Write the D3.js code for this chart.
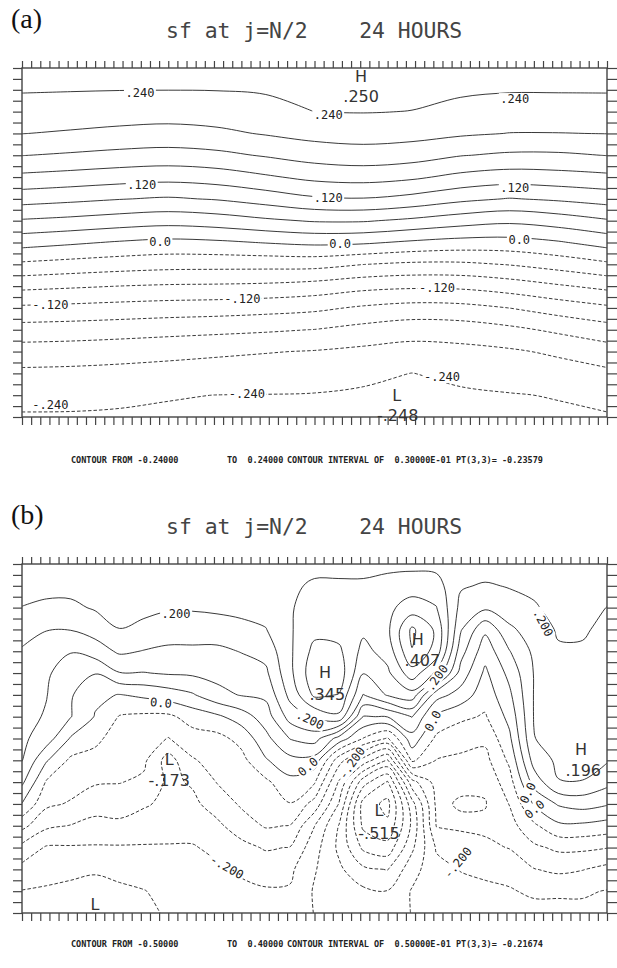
<!DOCTYPE html>
<html>
<head>
<meta charset="utf-8">
<script src="https://cdnjs.cloudflare.com/ajax/libs/d3/7.8.5/d3.min.js"></script>
<style>
  body { margin: 0; background: #fff; }
  svg { display: block; }
  text { white-space: pre; }
</style>
</head>
<body>
<div id="canvas"></div>
<script>
const width = 617;
const height = 968;

// ---- panel (a): stream function on a 13 x 17 grid (top row first)
const colsA = 13;
const rowsA = 17;
const fieldA = [
  [0.2455, 0.2458, 0.2462, 0.2465, 0.2466, 0.2472, 0.2480, 0.2485, 0.2480, 0.2472, 0.2462, 0.2460, 0.2455],
  [0.2418, 0.2412, 0.2405, 0.2403, 0.2407, 0.2425, 0.2465, 0.2497, 0.2468, 0.2435, 0.2418, 0.2418, 0.2418],
  [0.2298, 0.2271, 0.2243, 0.2227, 0.2249, 0.2309, 0.2401, 0.2411, 0.2395, 0.2333, 0.2286, 0.2286, 0.2298],
  [0.2105, 0.2067, 0.2026, 0.2000, 0.2040, 0.2122, 0.2199, 0.2226, 0.2202, 0.2141, 0.2094, 0.2094, 0.2105],
  [0.1807, 0.1763, 0.1716, 0.1688, 0.1730, 0.1826, 0.1928, 0.1974, 0.1930, 0.1813, 0.1754, 0.1756, 0.1807],
  [0.1432, 0.1386, 0.1334, 0.1300, 0.1348, 0.1461, 0.1576, 0.1611, 0.1551, 0.1423, 0.1358, 0.1386, 0.1432],
  [0.1022, 0.0970, 0.0912, 0.0867, 0.0922, 0.1031, 0.1156, 0.1185, 0.1106, 0.0972, 0.0885, 0.0945, 0.1022],
  [0.0571, 0.0521, 0.0456, 0.0411, 0.0456, 0.0549, 0.0626, 0.0627, 0.0540, 0.0433, 0.0362, 0.0445, 0.0571],
  [0.0114, 0.0044, -0.0028, -0.0079, -0.0050, 0.0013, 0.0064, 0.0040, -0.0047, -0.0109, -0.0114, -0.0030, 0.0114],
  [-0.0353, -0.0407, -0.0456, -0.0492, -0.0499, -0.0499, -0.0497, -0.0595, -0.0655, -0.0653, -0.0585, -0.0478, -0.0353],
  [-0.0822, -0.0862, -0.0902, -0.0931, -0.0941, -0.0962, -0.1018, -0.1110, -0.1149, -0.1138, -0.1052, -0.0933, -0.0822],
  [-0.1252, -0.1278, -0.1310, -0.1339, -0.1358, -0.1392, -0.1438, -0.1541, -0.1607, -0.1589, -0.1498, -0.1367, -0.1252],
  [-0.1624, -0.1642, -0.1669, -0.1701, -0.1730, -0.1763, -0.1806, -0.1898, -0.1968, -0.1949, -0.1867, -0.1745, -0.1624],
  [-0.1931, -0.1947, -0.1976, -0.2011, -0.2050, -0.2085, -0.2116, -0.2166, -0.2216, -0.2186, -0.2139, -0.2052, -0.1931],
  [-0.2162, -0.2172, -0.2192, -0.2218, -0.2241, -0.2258, -0.2285, -0.2345, -0.2403, -0.2350, -0.2295, -0.2231, -0.2162],
  [-0.2327, -0.2332, -0.2357, -0.2386, -0.2402, -0.2406, -0.2413, -0.2435, -0.2462, -0.2432, -0.2413, -0.2387, -0.2327],
  [-0.2422, -0.2423, -0.2428, -0.2436, -0.2443, -0.2450, -0.2462, -0.2475, -0.2480, -0.2470, -0.2455, -0.2440, -0.2422]
];
const levelsA = [-0.24, -0.21, -0.18, -0.15, -0.12, -0.09, -0.06, -0.03, 0, 0.03, 0.06, 0.09, 0.12, 0.15, 0.18, 0.21, 0.24];

// contour labels: model point i (0..64), j (0..32), text, angle
const labelsA = [
  [12.9, 2.3, ".240", 0], [33.5, 4.3, ".240", 0], [53.9, 2.85, ".240", 0],
  [13.1, 10.75, ".120", 0], [33.5, 11.9, ".120", 0], [53.9, 11.0, ".120", 0],
  [15.1, 15.95, "0.0", 0], [34.8, 16.15, "0.0", 0], [54.4, 15.8, "0.0", 0],
  [3.1, 21.7, "-.120", 0], [24.1, 21.2, "-.120", 0], [45.4, 20.2, "-.120", 0],
  [3.1, 30.9, "-.240", 0], [24.6, 29.9, "-.240", 0], [45.95, 28.35, "-.240", 0]
];
const extremaA = [
  [37.1, 0.8, "H"], [37.1, 2.6, ".250"],
  [41.0, 30.0, "L"], [41.1, 31.85, "-.248"]
];
const footerA = ["CONTOUR FROM -0.24000", "TO  0.24000", "CONTOUR INTERVAL OF  0.30000E-01 PT(3,3)= -0.23579"];

// ---- panel (b): 25 x 17 grid (top row first)
const colsB = 25;
const rowsB = 17;
const fieldB = [
  [0.23, 0.23, 0.23, 0.23, 0.235, 0.235, 0.235, 0.235, 0.235, 0.235, 0.235, 0.23, 0.23, 0.23, 0.23, 0.235, 0.235, 0.235, 0.23, 0.225, 0.225, 0.225, 0.23, 0.235, 0.235],
  [0.215, 0.215, 0.215, 0.22, 0.23, 0.23, 0.225, 0.225, 0.225, 0.23, 0.23, 0.238, 0.26, 0.26, 0.26, 0.27, 0.28, 0.27, 0.205, 0.195, 0.203, 0.21, 0.225, 0.23, 0.225],
  [0.199, 0.19, 0.19, 0.205, 0.22, 0.215, 0.205, 0.205, 0.21, 0.215, 0.22, 0.245, 0.275, 0.275, 0.27, 0.29, 0.32, 0.302, 0.185, 0.16, 0.18, 0.195, 0.215, 0.22, 0.199],
  [0.17, 0.152, 0.152, 0.17, 0.199, 0.185, 0.175, 0.175, 0.175, 0.185, 0.198, 0.245, 0.285, 0.28, 0.26, 0.29, 0.41, 0.34, 0.155, 0.06, 0.14, 0.175, 0.205, 0.205, 0.19],
  [0.145, 0.125, 0.103, 0.125, 0.158, 0.148, 0.14, 0.14, 0.14, 0.152, 0.168, 0.242, 0.315, 0.31, 0.235, 0.27, 0.398, 0.33, 0.12, 0.02, 0.098, 0.16, 0.195, 0.195, 0.185],
  [0.135, 0.108, 0.07, 0.052, 0.098, 0.098, 0.105, 0.108, 0.115, 0.127, 0.14, 0.238, 0.335, 0.33, 0.202, 0.24, 0.33, 0.24, 0.08, -0.01, 0.065, 0.152, 0.185, 0.19, 0.18],
  [0.125, 0.102, 0.055, 0.01, -0.002, 0.01, 0.025, 0.045, 0.085, 0.103, 0.11, 0.215, 0.31, 0.298, 0.148, 0.205, 0.23, 0.07, 0.03, -0.03, 0.04, 0.152, 0.18, 0.19, 0.178],
  [0.118, 0.095, 0.052, -0.003, -0.053, -0.06, -0.06, -0.03, -0.01, 0.025, 0.075, 0.17, 0.21, 0.24, 0.048, 0.052, 0.102, -0.01, -0.04, -0.055, 0.015, 0.152, 0.18, 0.192, 0.176],
  [0.11, 0.075, -0.005, -0.04, -0.07, -0.075, -0.102, -0.07, -0.065, -0.035, 0.035, 0.102, 0.12, 0.03, -0.052, -0.105, 0.03, -0.06, -0.08, -0.09, -0.01, 0.148, 0.175, 0.194, 0.172],
  [0.102, 0.005, -0.06, -0.065, -0.085, -0.09, -0.172, -0.105, -0.08, -0.065, -0.005, 0.035, 0.03, -0.13, -0.22, -0.305, -0.04, -0.102, -0.11, -0.115, -0.04, 0.12, 0.16, 0.196, 0.155],
  [0.06, -0.055, -0.08, -0.095, -0.098, -0.11, -0.16, -0.145, -0.098, -0.08, -0.06, -0.015, -0.045, -0.205, -0.38, -0.455, -0.22, -0.13, -0.14, -0.14, -0.07, 0.07, 0.148, 0.145, 0.115],
  [-0.002, -0.09, -0.105, -0.13, -0.13, -0.145, -0.16, -0.16, -0.13, -0.093, -0.08, -0.052, -0.12, -0.252, -0.47, -0.515, -0.32, -0.14, -0.155, -0.153, -0.098, 0.005, 0.055, 0.07, 0.055],
  [-0.085, -0.14, -0.152, -0.165, -0.16, -0.17, -0.175, -0.175, -0.16, -0.125, -0.095, -0.102, -0.199, -0.302, -0.46, -0.49, -0.34, -0.148, -0.14, -0.14, -0.12, -0.06, -0.01, -0.01, -0.02],
  [-0.165, -0.205, -0.205, -0.205, -0.205, -0.205, -0.205, -0.205, -0.185, -0.165, -0.145, -0.152, -0.23, -0.31, -0.41, -0.43, -0.31, -0.195, -0.18, -0.16, -0.148, -0.11, -0.09, -0.09, -0.098],
  [-0.215, -0.235, -0.24, -0.245, -0.235, -0.225, -0.215, -0.215, -0.21, -0.19, -0.18, -0.19, -0.246, -0.29, -0.34, -0.352, -0.27, -0.215, -0.198, -0.19, -0.18, -0.152, -0.14, -0.148, -0.165],
  [-0.252, -0.255, -0.26, -0.265, -0.26, -0.252, -0.235, -0.225, -0.22, -0.215, -0.205, -0.205, -0.255, -0.27, -0.29, -0.298, -0.246, -0.23, -0.215, -0.21, -0.205, -0.19, -0.19, -0.195, -0.202],
  [-0.26, -0.265, -0.27, -0.275, -0.27, -0.26, -0.245, -0.235, -0.225, -0.225, -0.215, -0.21, -0.252, -0.26, -0.27, -0.28, -0.248, -0.235, -0.225, -0.22, -0.22, -0.22, -0.22, -0.21, -0.215]
];
const levelsB = [-0.5, -0.45, -0.4, -0.35, -0.3, -0.25, -0.2, -0.15, -0.1, -0.05, 0, 0.05, 0.1, 0.15, 0.2, 0.25, 0.3, 0.35, 0.4];

const labelsB = [
  [16.85, 4.6, ".200", 0], [15.2, 12.75, "0.0", 5], [31.5, 14.3, ".200", 25],
  [31.3, 18.6, "0.0", -40], [36.1, 18.25, "-.200", -55], [45.4, 10.45, ".200", -55],
  [57.0, 5.4, ".200", 62], [44.97, 14.4, "0.0", -62], [55.36, 21.0, "0.0", -65],
  [56.1, 22.5, "0.0", -40], [22.4, 27.8, "-.200", 30], [47.7, 27.4, "-.200", -50]
];
const extremaB = [
  [33.15, 9.95, "H"], [33.4, 11.95, ".345"],
  [43.3, 6.95, "H"], [43.8, 8.85, ".407"],
  [16.1, 17.9, "L"], [16.1, 19.85, "-.173"],
  [39.06, 22.6, "L"], [39.06, 24.7, "-.515"],
  [61.16, 17.05, "H"], [61.4, 18.95, ".196"],
  [7.99, 31.2, "L"]
];
const footerB = ["CONTOUR FROM -0.50000", "TO  0.40000", "CONTOUR INTERVAL OF  0.50000E-01 PT(3,3)= -0.21674"];

const ticksI = d3.range(0, 65);
const ticksJ = d3.range(0, 33);
const footerX = [71, 227, 287];

const svg = d3.select("#canvas").append("svg")
  .attr("width", width)
  .attr("height", height);

// break the filled-region rings of d3.contours into the isolines only
function splitRing(ring, n, m) {
  let pts = ring;
  const a = ring[0], b = ring[ring.length - 1];
  if (a[0] === b[0] && a[1] === b[1]) pts = ring.slice(0, -1);
  const onEdge = (p) => p[0] <= 0 || p[0] >= n || p[1] <= 0 || p[1] >= m;
  const k0 = pts.findIndex(onEdge);
  if (k0 < 0) return [{ pts, closed: true }];
  const out = [];
  let run = [];
  for (let k = 0; k <= pts.length; k++) {
    const p = pts[(k0 + k) % pts.length];
    if (onEdge(p)) {
      if (run.length > 1) out.push({ pts: run, closed: false });
      run = [];
    } else run.push(p);
  }
  return out;
}

function drawPanel(p) {
  const g = svg.append("g");
  const xm = d3.scaleLinear().domain([0, 64]).range([p.x0, p.x1]);
  const ym = d3.scaleLinear().domain([0, 32]).range([p.y0, p.y1]);
  const xg = d3.scaleLinear().domain([0.5, p.n - 0.5]).range([p.x0, p.x1]);
  const yg = d3.scaleLinear().domain([0.5, p.m - 0.5]).range([p.y0, p.y1]);

  // headings
  g.append("text")
    .attr("x", 11).attr("y", p.y0 - 40)
    .attr("font-family", "Liberation Serif, DejaVu Serif, serif")
    .attr("font-size", 28).attr("fill", "#111")
    .text(p.tag);
  g.append("text")
    .attr("x", 166).attr("y", p.y0 - 30)
    .attr("font-family", "DejaVu Sans Mono, monospace")
    .attr("font-size", 21.4).attr("fill", "#444")
    .text("sf at j=N/2    24 HOURS");

  g.append("clipPath").attr("id", "clip-" + p.id)
    .append("rect")
    .attr("x", p.x0).attr("y", p.y0)
    .attr("width", p.x1 - p.x0).attr("height", p.y1 - p.y0);

  // isolines
  const contours = d3.contours().size([p.n, p.m]).thresholds(p.levels)(p.field.flat());
  const pieces = [];
  contours.forEach((c) => {
    c.coordinates.forEach((poly) => poly.forEach((ring) => {
      splitRing(ring, p.n, p.m).forEach((s) => pieces.push({ value: c.value, pts: s.pts, closed: s.closed }));
    }));
  });
  const lineOpen = d3.line().x((d) => xg(d[0])).y((d) => yg(d[1])).curve(d3.curveCatmullRom.alpha(0.5));
  const lineClosed = d3.line().x((d) => xg(d[0])).y((d) => yg(d[1])).curve(d3.curveCatmullRomClosed.alpha(0.5));

  g.append("g").attr("clip-path", `url(#clip-${p.id})`)
    .selectAll("path").data(pieces).join("path")
    .attr("d", (d) => (d.closed ? lineClosed(d.pts) : lineOpen(d.pts)))
    .attr("fill", "none")
    .attr("stroke", "#222")
    .attr("stroke-width", 0.9)
    .attr("stroke-dasharray", (d) => (d.value < 0 ? "3.5,2" : null));

  // line labels with a white gap
  const lab = g.append("g").selectAll("g").data(p.labels).join("g")
    .attr("transform", (d) => `translate(${xm(d[0])},${ym(d[1])}) rotate(${d[3]})`);
  lab.append("text")
    .attr("text-anchor", "middle")
    .attr("dominant-baseline", "central")
    .attr("font-family", "DejaVu Sans Mono, monospace")
    .attr("font-size", 12).attr("fill", "#222")
    .text((d) => d[2]);
  lab.each(function () {
    const t = d3.select(this).select("text");
    const bb = t.node().getBBox();
    d3.select(this).insert("rect", "text")
      .attr("x", bb.x - 1.5).attr("y", bb.y + 1)
      .attr("width", bb.width + 3).attr("height", bb.height - 2)
      .attr("fill", "#fff");
  });

  // frame and tick marks
  g.append("rect")
    .attr("x", p.x0).attr("y", p.y0)
    .attr("width", p.x1 - p.x0).attr("height", p.y1 - p.y0)
    .attr("fill", "none").attr("stroke", "#444").attr("stroke-width", 1.4);
  const axes = [
    [d3.axisTop(xm).tickValues(ticksI).tickSize(7), `translate(0,${p.y0})`],
    [d3.axisBottom(xm).tickValues(ticksI).tickSize(8), `translate(0,${p.y1})`],
    [d3.axisLeft(ym).tickValues(ticksJ).tickSize(9), `translate(${p.x0},0)`],
    [d3.axisRight(ym).tickValues(ticksJ).tickSize(10), `translate(${p.x1},0)`]
  ];
  axes.forEach(([ax, tr]) => {
    const a = g.append("g").attr("transform", tr).attr("color", "#444")
      .call(ax.tickFormat("").tickSizeOuter(0));
    a.select(".domain").remove();
    a.selectAll("line").attr("stroke-width", 1.2);
  });

  // highs and lows
  g.append("g").selectAll("text").data(p.extrema).join("text")
    .attr("x", (d) => xm(d[0])).attr("y", (d) => ym(d[1]))
    .attr("text-anchor", "middle")
    .attr("dominant-baseline", "central")
    .attr("font-family", "DejaVu Sans, sans-serif")
    .attr("font-size", 16).attr("fill", "#333")
    .text((d) => d[2]);

  g.append("g").selectAll("text").data(p.footer).join("text")
    .attr("x", (d, k) => footerX[k]).attr("y", p.footY)
    .attr("font-family", "DejaVu Sans Mono, monospace")
    .attr("font-size", 8.5).attr("font-weight", "bold").attr("fill", "#222")
    .text((d) => d);
}

drawPanel({
  id: "a", tag: "(a)", x0: 22, x1: 607, y0: 68, y1: 417,
  n: colsA, m: rowsA, field: fieldA, levels: levelsA,
  labels: labelsA, extrema: extremaA, footer: footerA, footY: 463
});
drawPanel({
  id: "b", tag: "(b)", x0: 22, x1: 607, y0: 564, y1: 913,
  n: colsB, m: rowsB, field: fieldB, levels: levelsB,
  labels: labelsB, extrema: extremaB, footer: footerB, footY: 947
});
</script>
</body>
</html>
